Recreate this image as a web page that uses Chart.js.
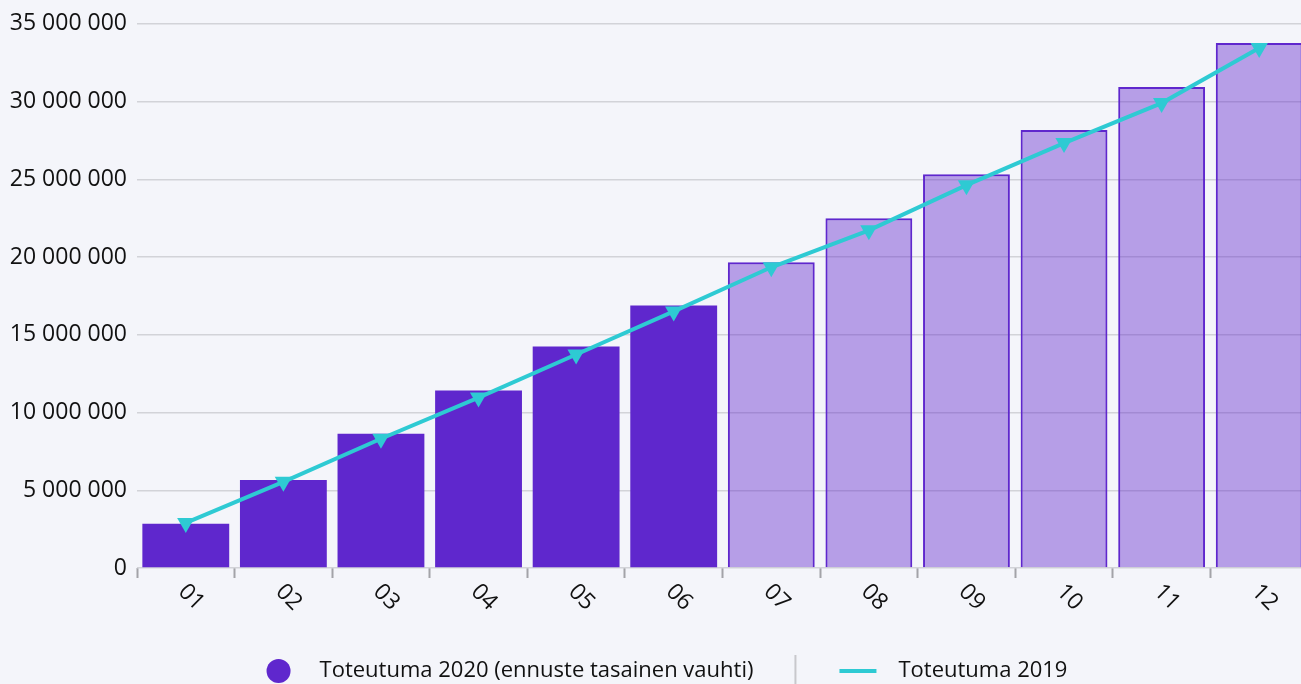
<!DOCTYPE html>
<html>
<head>
<meta charset="utf-8">
<script src="https://cdn.jsdelivr.net/npm/chart.js@4"></script>
<style>
	html, body { margin: 0; padding: 0; background: #f4f5fa; }
	#wrap { position: relative; width: 1301px; height: 684px; overflow: hidden; }
	#kertyma { display: block; }
</style>
</head>
<body>
<div id="wrap"><canvas id="kertyma" width="1310" height="684"></canvas></div>
<script>
const kuukaudet = ["01", "02", "03", "04", "05", "06", "07", "08", "09", "10", "11", "12"];
const toteutuma2020 = [2840000, 5660000, 8640000, 11410000, 14240000, 16890000, 19660000, 22500000, 25330000, 28170000, 30940000, 33770000];
const toteutuma2019 = [2900000, 5540000, 8310000, 10960000, 13730000, 16500000, 19340000, 21720000, 24620000, 27330000, 29900000, 33450000];
const toteutuneetKk = 6; // kuukaudet 07-12 ovat ennustetta
const yMax = 35000000;
const yAskel = 5000000;

(function () {
	const ctx = document.getElementById("kertyma");
	const violetti = "#5f27cd";
	const vaalea = "rgba(95, 39, 205, 0.42)";
	const turkoosi = "#2ecad3";
	const fontti = "'Open Sans', sans-serif";
	const koko = 22;

	Chart.defaults.font.family = fontti;
	Chart.defaults.font.size = koko;
	Chart.defaults.color = "#111111";

	function muotoile(v) {
		return String(v).replace(/\B(?=(\d{3})+(?!\d))/g, " ");
	}

	// x-akselin nimiöt myötäpäivään kierrettynä
	const xNimiot = {
		id: "xNimiot",
		afterDraw(chart) {
			const x = chart.scales.x;
			const c = chart.ctx;
			c.save();
			c.font = `${koko + 1}px ${fontti}`;
			c.fillStyle = "#111111";
			c.textAlign = "left";
			c.textBaseline = "middle";
			x.ticks.forEach((t, i) => {
				const px = x.getPixelForTick(i);
				c.save();
				c.translate(px - 4, x.top + 20);
				c.rotate(Math.PI / 4);
				c.fillText(kuukaudet[i], 0, 0);
				c.restore();
			});
			c.restore();
		},
	};

	// selite alareunaan
	const selite = {
		id: "selite",
		afterDraw(chart) {
			const c = chart.ctx;
			const ds = chart.data.datasets;
			const y = 671;
			c.save();
			c.font = `${koko}px ${fontti}`;
			c.textBaseline = "middle";
			c.textAlign = "left";
			const w1 = c.measureText(ds[0].label).width;
			const w2 = c.measureText(ds[1].label).width;
			const kokonais = 24 + 29 + w1 + 42 + 44 + 37 + 22 + w2;
			let x = 667 - kokonais / 2;
			c.fillStyle = violetti;
			c.beginPath();
			c.arc(x + 12, y, 12, 0, Math.PI * 2);
			c.fill();
			x += 24 + 29;
			c.fillStyle = "#111111";
			c.fillText(ds[0].label, x, y);
			x += w1 + 42;
			c.strokeStyle = "#c8c8cc";
			c.lineWidth = 2;
			c.beginPath();
			c.moveTo(x, 655);
			c.lineTo(x, 684);
			c.stroke();
			x += 44;
			c.strokeStyle = turkoosi;
			c.lineWidth = 4;
			c.beginPath();
			c.moveTo(x, y);
			c.lineTo(x + 37, y);
			c.stroke();
			x += 37 + 22;
			c.fillText(ds[1].label, x, y);
			c.restore();
		},
	};

	new Chart(ctx, {
		type: "bar",
		data: {
			labels: kuukaudet,
			datasets: [
				{
					type: "bar",
					label: "Toteutuma 2020 (ennuste tasainen vauhti)",
					data: toteutuma2020,
					backgroundColor: toteutuma2020.map((v, i) => (i < toteutuneetKk ? violetti : vaalea)),
					borderColor: violetti,
					borderWidth: toteutuma2020.map((v, i) => (i < toteutuneetKk ? 0 : 2)),
					barPercentage: 0.89,
					categoryPercentage: 1,
					order: 2,
				},
				{
					type: "line",
					label: "Toteutuma 2019",
					data: toteutuma2019,
					borderColor: turkoosi,
					backgroundColor: turkoosi,
					borderWidth: 4,
					tension: 0,
					pointStyle: "triangle",
					rotation: 180,
					pointRadius: 10,
					pointBorderWidth: 0,
					clip: false,
					order: 1,
				},
			],
		},
		options: {
			responsive: false,
			animation: false,
			layout: {
				autoPadding: false,
				padding: { top: 22, right: 2, bottom: 66, left: 10 },
			},
			scales: {
				x: {
					offset: true,
					grid: {
						display: true,
						drawOnChartArea: false,
						drawTicks: true,
						tickLength: 10,
						tickWidth: 2,
						tickColor: "#a3a3a8",
						offset: true,
					},
					border: { display: false },
					ticks: { display: false },
					afterFit(scale) {
						scale.height = 50;
					},
				},
				y: {
					min: 0,
					max: yMax,
					beginAtZero: true,
					grid: {
						color: "#d2d3d8",
						lineWidth: 1.5,
						drawTicks: false,
					},
					border: { display: false },
					ticks: {
						stepSize: yAskel,
						padding: 10,
						font: { size: koko + 1 },
						callback: (v) => muotoile(v),
					},
					afterFit(scale) {
						scale.width = 127;
					},
				},
			},
			plugins: {
				legend: { display: false },
				tooltip: { enabled: false },
			},
		},
		plugins: [xNimiot, selite],
	});
})();
</script>
</body>
</html>
